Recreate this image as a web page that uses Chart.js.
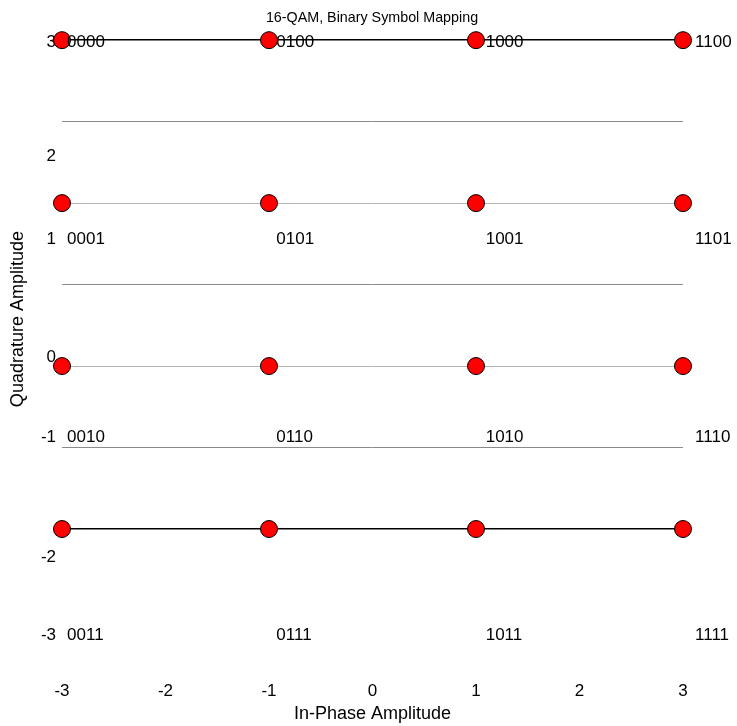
<!DOCTYPE html>
<html>
<head>
<meta charset="utf-8">
<script src="https://cdn.jsdelivr.net/npm/chart.js@4.4.1/dist/chart.umd.min.js"></script>
<style>
  body { margin: 0; background: #fff; }
  #wrap { width: 737px; height: 726px; }
</style>
</head>
<body>
<div id="wrap"><canvas id="myChart"></canvas></div>
<script>
const ctx = document.getElementById('myChart')

// constellation levels
const iLevels = [-3, -1, 1, 3]
const qLevels = [3, 1, -1, -3]
// bit labels, one row per q level, columns follow iLevels
const symbolBits = [
  ['0000', '0100', '1000', '1100'],
  ['0001', '0101', '1001', '1101'],
  ['0010', '0110', '1010', '1110'],
  ['0011', '0111', '1011', '1111'],
]
const xTicks = [-3, -2, -1, 0, 1, 2, 3]
const qGrid = [3, 2, 1, 0, -1, -2, -3]
const yTickLabels = ['3', '2', '1', '0', '-1', '-2', '-3']
const yTickPos = [3, 1.84, 1, -0.19, -1, -2.21, -3]

const points = []
qLevels.forEach((q) => {
  iLevels.forEach((i) => points.push({ x: i, y: q }))
})

Chart.defaults.font.family = '"Liberation Sans", Arial, sans-serif'
Chart.defaults.font.size = 17
Chart.defaults.color = '#000'

// bit labels sit on their own (slightly stretched) text scales
const bitLabels = {
  id: 'bitLabels',
  afterDatasetsDraw(chart) {
    const c = chart.ctx
    const xs = chart.scales.xt
    const ys = chart.scales.yt
    c.save()
    c.font = '17px "Liberation Sans", Arial, sans-serif'
    c.fillStyle = '#000'
    c.textAlign = 'left'
    c.textBaseline = 'middle'
    qLevels.forEach((q, r) => {
      iLevels.forEach((i, k) => {
        c.fillText(symbolBits[r][k], xs.getPixelForValue(i), ys.getPixelForValue(q))
      })
    })
    c.restore()
  },
}

new Chart(ctx, {
  type: 'scatter',
  data: {
    datasets: [
      {
        data: points,
        backgroundColor: '#ff0000',
        borderColor: '#000',
        borderWidth: 1,
        pointRadius: 8.5,
        pointHoverRadius: 8.5,
        clip: false,
      },
    ],
  },
  options: {
    responsive: true,
    maintainAspectRatio: false,
    animation: false,
    layout: { padding: { left: 7, right: 0, top: 0, bottom: 0 } },
    plugins: {
      legend: { display: false },
      tooltip: { enabled: false },
      title: {
        display: true,
        text: '16-QAM, Binary Symbol Mapping',
        font: { size: 14.3, weight: 'normal' },
        color: '#000',
        padding: { top: 9, bottom: 14 },
      },
    },
    scales: {
      x: {
        type: 'linear',
        min: -3,
        max: 3,
        afterBuildTicks: (scale) => {
          scale.ticks = xTicks.map((v) => ({ value: v }))
        },
        afterFit: (scale) => {
          scale.height = 93
        },
        grid: { display: false, drawTicks: false },
        border: { display: false },
        ticks: { padding: 48 },
        title: {
          display: true,
          text: 'In-Phase Amplitude',
          font: { size: 18 },
          padding: { top: 0, bottom: 1 },
        },
      },
      xt: {
        type: 'linear',
        display: false,
        min: -3.048,
        max: 2.885,
      },
      y: {
        type: 'linear',
        position: 'right',
        min: -4.276,
        max: 3,
        afterBuildTicks: (scale) => {
          scale.ticks = qGrid.map((v) => ({ value: v }))
        },
        afterFit: (scale) => {
          scale.width = 54
        },
        ticks: { display: false },
        border: { display: false },
        grid: {
          drawTicks: false,
          color: (c) =>
            Math.abs(c.tick.value) === 3 ? '#000' : c.tick.value % 2 === 0 ? '#8a8a8a' : '#b5b5b5',
          lineWidth: (c) => (Math.abs(c.tick.value) === 3 ? 1.5 : 1),
        },
      },
      yt: {
        type: 'linear',
        position: 'left',
        min: -2.98,
        max: 3.02,
        afterBuildTicks: (scale) => {
          scale.ticks = yTickPos.map((v) => ({ value: v }))
        },
        afterFit: (scale) => {
          scale.width = 55
        },
        grid: { display: false, drawTicks: false },
        border: { display: false },
        ticks: {
          autoSkip: false,
          padding: 6,
          callback: (value, index) => yTickLabels[index],
        },
        title: {
          display: true,
          // leading spaces nudge the rotated title up to where the original sits
          text: '       Quadrature Amplitude',
          font: { size: 18 },
          padding: { top: 0, bottom: 0 },
        },
      },
    },
  },
  plugins: [bitLabels],
})
</script>
</body>
</html>
